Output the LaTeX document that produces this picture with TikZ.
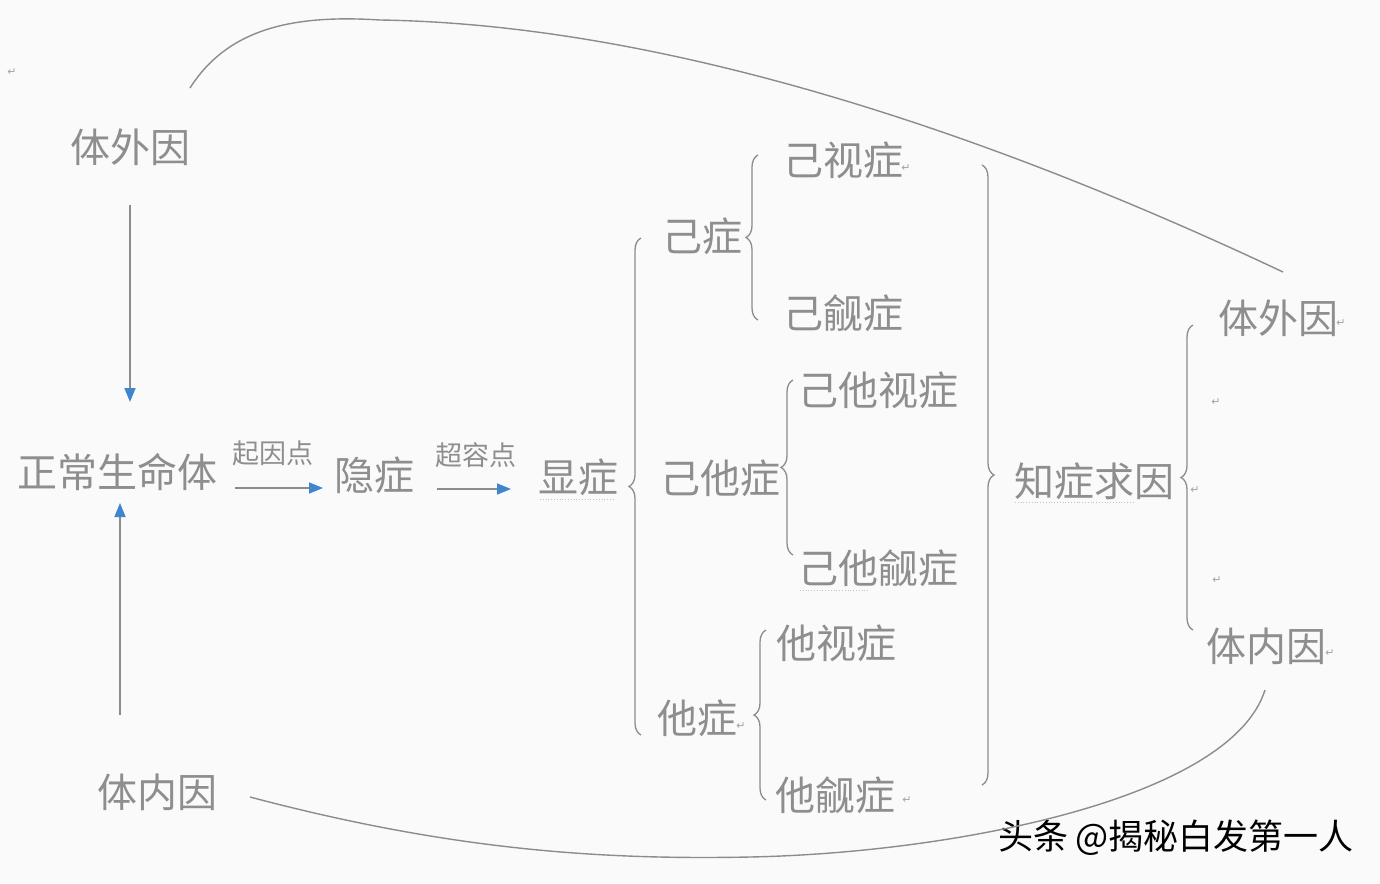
\documentclass[tikz,border=0pt]{standalone}
\usepackage{fontspec}
\newfontfamily\cjk{Noto Sans CJK SC}
\newfontfamily\sym{DejaVu Sans}
\usetikzlibrary{arrows.meta,decorations.pathreplacing}
\definecolor{txtgray}{HTML}{8E8E8E}
\definecolor{linegray}{HTML}{8C8C8C}
\definecolor{arrblue}{HTML}{3F86CF}
\definecolor{bgc}{HTML}{FAFAFA}
\begin{document}
\begin{tikzpicture}[x=1pt,y=-1pt,
  lab/.style={font=\cjk\fontsize{40}{42}\selectfont, text=txtgray, inner sep=0pt},
  small/.style={font=\cjk\fontsize{27}{30}\selectfont, text=txtgray, inner sep=0pt},
  arr/.style={draw=linegray, line width=1.6pt, -{Triangle[length=14pt,width=11pt,color=arrblue]}},
  brc/.style={draw=linegray, line width=1.3pt, decorate, decoration={brace, amplitude=12pt}},
  curve/.style={draw=linegray, line width=1.4pt},
  ret/.style={font=\sym\fontsize{11}{11}\selectfont, text=txtgray!80, inner sep=0pt},
  squig/.style={draw=txtgray!55, line width=0.8pt, dotted},
  wm/.style={font=\cjk\fontsize{35}{38}\selectfont, text=black, inner sep=0pt}]
\fill[bgc] (0,0) rectangle (1380,883);
\useasboundingbox (0,0) rectangle (1380,883);

% nodes
\node[lab] (wai1) at (130,147) {体外因};
\node[lab] (zc) at (117,472) {正常生命体};
\node[lab] (nei1) at (157,792) {体内因};
\node[small] (qyd) at (273,453) {起因点};
\node[lab] (yz) at (374,475) {隐症};
\node[small] (crd) at (476,455) {超容点};
\node[lab] (xz) at (578,477) {显症};
\node[lab] (jz) at (702,236) {己症};
\node[lab] (jsz) at (843,160) {己视症};
\node[lab] (jjz) at (843,313) {己觎症};
\node[lab] (jtz) at (720,478) {己他症};
\node[lab] (jtsz) at (878,390) {己他视症};
\node[lab] (jtjz) at (878,568) {己他觎症};
\node[lab] (tz) at (697,718) {他症};
\node[lab] (tsz) at (836,643) {他视症};
\node[lab] (tjz) at (835,795) {他觎症};
\node[lab] (zzqy) at (1094,481) {知症求因};
\node[lab] (wai2) at (1278,318) {体外因};
\node[lab] (nei2) at (1266,646) {体内因};
\node[wm] (wmk) at (1176,838) {头条 @揭秘白发第一人};

% arrow end points
\coordinate (a1s) at (130,205);
\coordinate (a1e) at (130,402);
\coordinate (a2s) at (120,715);
\coordinate (a2e) at (120,503);
\coordinate (a3s) at (235,488);
\coordinate (a3e) at (323,488);
\coordinate (a4s) at (437,489);
\coordinate (a4e) at (511,489);
\draw[arr] (a1s) -- (a1e);
\draw[arr] (a2s) -- (a2e);
\draw[arr] (a3s) -- (a3e);
\draw[arr] (a4s) -- (a4e);

% braces
\draw[brc] (641,735) -- (641,238);
\draw[brc] (758,320) -- (758,155);
\draw[brc] (793,555) -- (793,380);
\draw[brc] (766,800) -- (766,630);
\draw[brc] (982,165) -- (982,785);
\draw[brc] (1193,630) -- (1193,325);

% curves
\coordinate (c1s) at (190,88);
\coordinate (c1e) at (1283,272);
\coordinate (c2s) at (250,797);
\coordinate (c2e) at (1265,690);
\draw[curve] (c1s) .. controls (230,25) and (300,15) .. (380,20)
  .. controls (640,24) and (950,115) .. (c1e);
\draw[curve] (c2s) .. controls (450,850) and (600,860) .. (750,857)
  .. controls (950,853) and (1230,800) .. (c2e);

% squiggles
\draw[squig] (540,499) -- (615,499);
\draw[squig] (1015,502) -- (1135,502);
\draw[squig] (800,590) -- (870,590);

% return marks
\node[ret] (r1) at (12,72) {↵};
\node[ret] (r2) at (906,168) {↵};
\node[ret] (r3) at (1341,323) {↵};
\node[ret] (r4) at (1216,402) {↵};
\node[ret] (r5) at (1195,490) {↵};
\node[ret] (r6) at (1217,580) {↵};
\node[ret] (r7) at (1330,653) {↵};
\node[ret] (r8) at (907,800) {↵};
\node[ret] (r9) at (741,726) {↵};
\end{tikzpicture}
\end{document}
